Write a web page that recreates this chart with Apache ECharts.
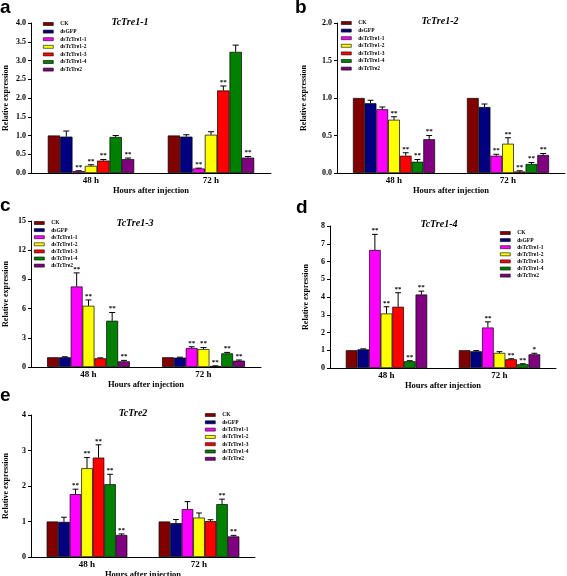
<!DOCTYPE html>
<html><head><meta charset="utf-8">
<script src="https://cdn.jsdelivr.net/npm/echarts@6/dist/echarts.min.js"></script>
<style>html,body{margin:0;padding:0;background:#fff}#c{width:567px;height:576px}</style>
</head><body><div id="c"></div><script>
// ---------- data ----------
const categories = ['48 h', '72 h'];
const groups = ['CK', 'dsGFP', 'dsTcTre1-1', 'dsTcTre1-2', 'dsTcTre1-3', 'dsTcTre1-4', 'dsTcTre2'];
const colors = ['#800000', '#000080', '#ff00ff', '#ffff00', '#ff0000', '#008000', '#800080'];

// a: TcTre1-1
const a48 = [1.00, 0.97, 0.05, 0.19, 0.33, 0.96, 0.37];
const a48Err = [0, 0.15, 0.01, 0.03, 0.03, 0.04, 0.03];
const a72 = [1.00, 0.97, 0.12, 1.02, 2.20, 3.23, 0.41];
const a72Err = [0, 0.05, 0.01, 0.08, 0.12, 0.18, 0.03];
const a48Sig = ['', '', '**', '**', '**', '', '**'];
const a72Sig = ['', '', '**', '', '**', '', '**'];
const aTicks = [0, 0.5, 1.0, 1.5, 2.0, 2.5, 3.0, 3.5, 4.0];

// b: TcTre1-2
const b48 = [1.00, 0.93, 0.85, 0.71, 0.23, 0.15, 0.45];
const b48Err = [0, 0.04, 0.03, 0.04, 0.04, 0.03, 0.05];
const b72 = [1.00, 0.88, 0.23, 0.39, 0.02, 0.12, 0.24];
const b72Err = [0, 0.04, 0.02, 0.08, 0.01, 0.02, 0.02];
const b48Sig = ['', '', '', '**', '**', '**', '**'];
const b72Sig = ['', '', '**', '**', '**', '**', '**'];
const bTicks = [0, 0.5, 1.0, 1.5, 2.0];

// c: TcTre1-3
const c48 = [1.00, 1.00, 8.27, 6.29, 0.89, 4.75, 0.58];
const c48Err = [0, 0.05, 1.40, 0.60, 0.05, 0.85, 0.10];
const c72 = [1.00, 0.96, 1.95, 1.84, 0.10, 1.40, 0.65];
const c72Err = [0, 0.05, 0.13, 0.16, 0.02, 0.10, 0.07];
const c48Sig = ['', '', '**', '**', '', '**', '**'];
const c72Sig = ['', '', '**', '**', '**', '**', '**'];
const cTicks = [0, 3, 6, 9, 12, 15];

// d: TcTre1-4
const d48 = [1.00, 1.05, 6.65, 3.07, 3.45, 0.38, 4.14];
const d48Err = [0, 0.03, 0.88, 0.38, 0.79, 0.03, 0.19];
const d72 = [1.00, 0.94, 2.28, 0.85, 0.49, 0.21, 0.77];
const d72Err = [0, 0.04, 0.32, 0.07, 0.03, 0.03, 0.06];
const d48Sig = ['', '', '**', '**', '**', '**', '**'];
const d72Sig = ['', '', '**', '', '**', '**', '*'];
const dTicks = [0, 1, 2, 3, 4, 5, 6, 7, 8];

// e: TcTre2
const e48 = [1.00, 0.99, 1.77, 2.50, 2.80, 2.05, 0.62];
const e48Err = [0, 0.13, 0.14, 0.30, 0.36, 0.28, 0.03];
const e72 = [1.00, 0.955, 1.35, 1.11, 1.01, 1.49, 0.58];
const e72Err = [0, 0.10, 0.21, 0.13, 0.04, 0.14, 0.03];
const e48Sig = ['', '', '**', '**', '**', '**', '**'];
const e72Sig = ['', '', '', '', '', '**', '**'];
const eTicks = [0, 1, 2, 3, 4];

// ---------- layout ----------
const GAP = 0.28;
const SERIF = 'Liberation Serif';
const panels = [
  {letter: 'a', title: 'TcTre1-1', v: [a48, a72], err: [a48Err, a72Err], sig: [a48Sig, a72Sig], ticks: aTicks, dec: 1,
   grid: {left: 31, top: 23, width: 240, height: 150}, legend: {left: 43, top: 21, gap: 1.6},
   titleXY: [130, 17], letterXY: [0, -2], yNameGap: 21},
  {letter: 'b', title: 'TcTre1-2', v: [b48, b72], err: [b48Err, b72Err], sig: [b48Sig, b72Sig], ticks: bTicks, dec: 1,
   grid: {left: 337, top: 23, width: 228, height: 150}, legend: {left: 341, top: 20, gap: 1.6},
   titleXY: [440, 16], letterXY: [295, -2], yNameGap: 29},
  {letter: 'c', title: 'TcTre1-3', v: [c48, c72], err: [c48Err, c72Err], sig: [c48Sig, c72Sig], ticks: cTicks, dec: 0,
   grid: {left: 31, top: 221, width: 230, height: 146}, legend: {left: 34, top: 220, gap: 1.1},
   titleXY: [135, 218], letterXY: [0, 196], yNameGap: 21},
  {letter: 'd', title: 'TcTre1-4', v: [d48, d72], err: [d48Err, d72Err], sig: [d48Sig, d72Sig], ticks: dTicks, dec: 0,
   grid: {left: 330, top: 226, width: 226, height: 142}, legend: {left: 500, top: 230, gap: 1.1},
   titleXY: [439, 219], letterXY: [296, 198], yNameGap: 20},
  {letter: 'e', title: 'TcTre2', v: [e48, e72], err: [e48Err, e72Err], sig: [e48Sig, e72Sig], ticks: eTicks, dec: 0,
   grid: {left: 31, top: 415, width: 224, height: 142}, legend: {left: 205, top: 412, gap: 1.3},
   titleXY: [133, 408], letterXY: [0, 386], yNameGap: 21}
];

const grids = [], xAxes = [], yAxes = [], series = [], legends = [], titles = [];

function errRenderer(p, k) {
  return function (params, api) {
    const ci = api.value(0), v = api.value(1), e = api.value(2);
    const base = api.coord([ci, v]);
    const top = api.coord([ci, v + e]);
    const band = api.size([1, 0])[0];
    const bw = band * (1 - GAP) / groups.length;
    const cx = base[0] + (k - 3) * bw;
    const cap = bw * 0.5;
    const children = [];
    if (e > 0) {
      children.push({type: 'line', shape: {x1: cx, y1: base[1], x2: cx, y2: top[1]}, style: {stroke: '#000', lineWidth: 1}});
      children.push({type: 'line', shape: {x1: cx - cap / 2, y1: top[1], x2: cx + cap / 2, y2: top[1]}, style: {stroke: '#000', lineWidth: 1}});
    }
    const s = p.sig[params.dataIndex][k];
    if (s) {
      children.push({type: 'text', x: cx, y: top[1] - 0.5,
        style: {text: s, fill: '#000', font: 'bold 7px "' + SERIF + '"', align: 'center', verticalAlign: 'bottom'}});
    }
    return {type: 'group', children: children};
  };
}

panels.forEach(function (p, pi) {
  grids.push(Object.assign({containLabel: false, outerBoundsMode: 'none'}, p.grid));
  xAxes.push({
    type: 'category', gridIndex: pi, data: categories,
    axisLine: {lineStyle: {color: '#000', width: 1}},
    axisTick: {show: false},
    axisLabel: {color: '#000', fontFamily: SERIF, fontWeight: 'bold', fontSize: 9, margin: 3},
    name: 'Hours after injection', nameLocation: 'middle', nameGap: 12,
    nameTextStyle: {color: '#000', fontFamily: SERIF, fontWeight: 'bold', fontSize: 8.5}
  });
  const t = p.ticks;
  yAxes.push({
    type: 'value', gridIndex: pi, min: t[0], max: t[t.length - 1], interval: t[1] - t[0],
    axisLine: {show: true, lineStyle: {color: '#000', width: 1}},
    axisTick: {show: true, inside: false, length: 3, lineStyle: {color: '#000'}},
    splitLine: {show: false},
    axisLabel: {color: '#000', fontFamily: SERIF, fontWeight: 'bold', fontSize: 8, margin: 5,
      formatter: function (val) { return val.toFixed(p.dec); }},
    name: 'Relative expression', nameLocation: 'middle', nameGap: p.yNameGap,
    nameTextStyle: {color: '#000', fontFamily: SERIF, fontWeight: 'bold', fontSize: 8}
  });
  groups.forEach(function (g, k) {
    series.push({
      type: 'bar', name: g, xAxisIndex: pi, yAxisIndex: pi,
      data: [p.v[0][k], p.v[1][k]],
      barGap: '0%', barCategoryGap: (GAP * 100) + '%',
      itemStyle: {color: colors[k], borderColor: '#000', borderWidth: 0.7},
      emphasis: {disabled: true}, silent: true
    });
  });
  groups.forEach(function (g, k) {
    series.push({
      type: 'custom', name: g + ' error', xAxisIndex: pi, yAxisIndex: pi,
      data: [[0, p.v[0][k], p.err[0][k]], [1, p.v[1][k], p.err[1][k]]],
      renderItem: errRenderer(p, k), silent: true, z: 5
    });
  });
  legends.push({
    orient: 'vertical', left: p.legend.left, top: p.legend.top, padding: 0,
    itemWidth: 10, itemHeight: 3, itemGap: p.legend.gap, icon: 'rect', selectedMode: false,
    data: groups.map(function (g) { return {name: g}; }),
    itemStyle: {borderColor: '#000', borderWidth: 0.6},
    textStyle: {color: '#000', fontFamily: SERIF, fontWeight: 'bold', fontSize: 5.5, padding: [0, 0, 0, 2]}
  });
  titles.push({
    text: p.title, left: p.titleXY[0], top: p.titleXY[1], textAlign: 'center', padding: 0,
    textStyle: {color: '#000', fontFamily: SERIF, fontStyle: 'italic', fontWeight: 'bold', fontSize: 10}
  });
  titles.push({
    text: p.letter, left: p.letterXY[0], top: p.letterXY[1], padding: 0,
    textStyle: {color: '#000', fontFamily: 'Liberation Sans', fontWeight: 'bold', fontSize: 19}
  });
});

const chart = echarts.init(document.getElementById('c'), null, {renderer: 'canvas'});
chart.setOption({
  animation: false,
  backgroundColor: '#fff',
  title: titles,
  legend: legends,
  grid: grids,
  xAxis: xAxes,
  yAxis: yAxes,
  series: series
});
</script></body></html>
